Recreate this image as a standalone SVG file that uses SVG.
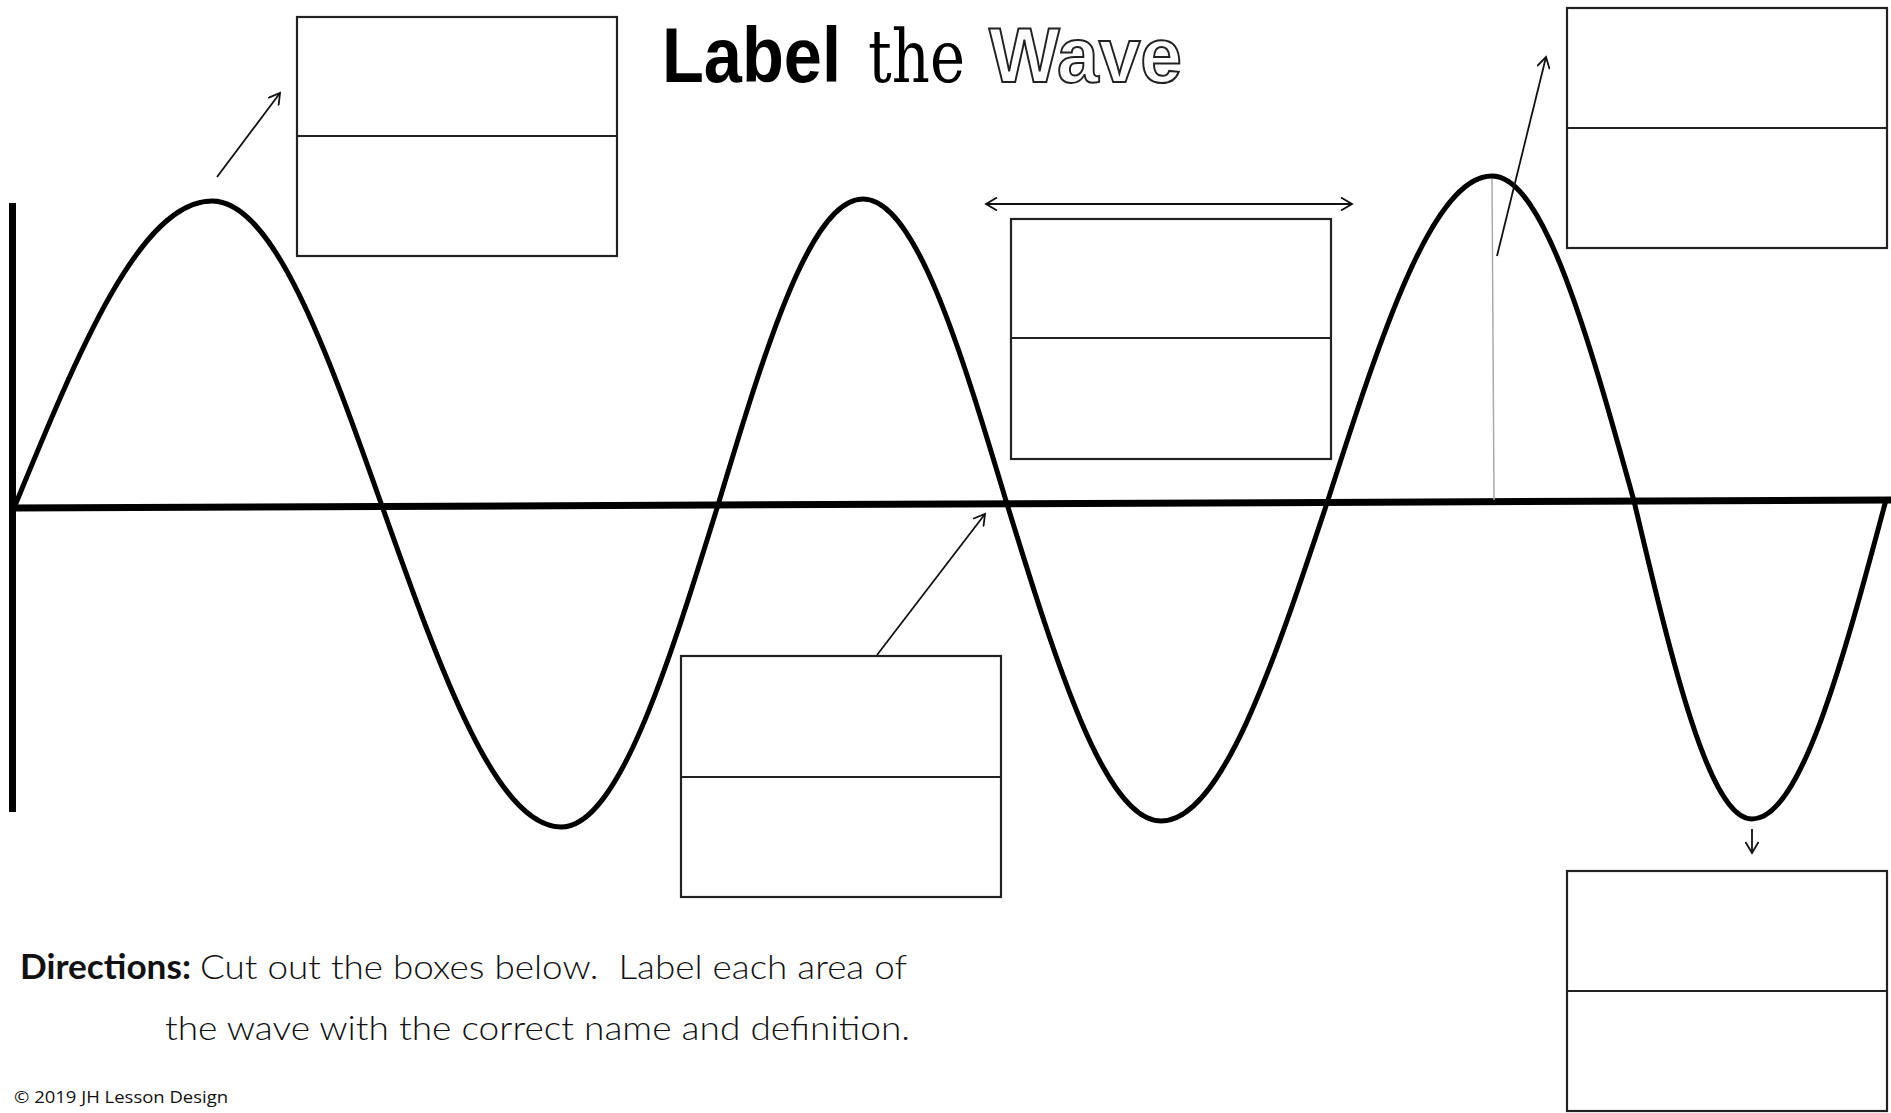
<svg xmlns="http://www.w3.org/2000/svg" width="1891" height="1113" viewBox="0 0 1891 1113">
<style>
.box{fill:#fff;stroke:#222;stroke-width:2.2}
.div{stroke:#222;stroke-width:2.2}
.conn{stroke:#111;stroke-width:1.8;fill:none}
.wave{fill:none;stroke:#000;stroke-width:5;stroke-linecap:round;stroke-linejoin:round}
.axis{stroke:#000;stroke-width:7;fill:none}
.dir{font-family:"Lato","Noto Sans",sans-serif;font-size:34px;fill:#111;font-weight:300}
</style>
<defs>
<marker id="ah" markerUnits="userSpaceOnUse" viewBox="0 0 14 14" refX="12" refY="7" markerWidth="14" markerHeight="14" orient="auto-start-reverse">
<path d="M1,0.5 L12,7 L1,13.5" fill="none" stroke="#111" stroke-width="1.8"/>
</marker>
</defs>
<rect width="1891" height="1113" fill="#fff"/>

<g id="title">
<text x="662" y="82" font-family="Liberation Sans, Arial, sans-serif" font-weight="bold" font-size="78" textLength="179" lengthAdjust="spacingAndGlyphs" fill="#000">Label</text>
<text x="868" y="82" font-family="DejaVu Serif, serif" font-size="72" textLength="97" lengthAdjust="spacingAndGlyphs" fill="#000">the</text>
<text x="989" y="82" font-family="Liberation Sans, Arial, sans-serif" font-weight="bold" font-size="78" textLength="193" lengthAdjust="spacingAndGlyphs" fill="#fff" stroke="#222" stroke-width="2">Wave</text>
</g>

<g id="axes">
<line class="axis" x1="12.5" y1="203" x2="12.5" y2="812" stroke-width="8"/>
<line class="axis" x1="12" y1="508" x2="1891" y2="500"/>
<line x1="1492" y1="178" x2="1494" y2="500" stroke="#aaa" stroke-width="1.5"/>
</g>

<g id="wave">
<path class="wave" d="M14,508 C78.5,350.7 140.3,201 212,201 C273.5,201 326.6,349.7 382,506 C440.4,670.4 496.2,827 561,827 C617.8,827 666.8,670 718,505 C765.3,348.2 810.5,199 863,199 C915.1,199 960.1,347.7 1007,504 C1057.2,666.4 1105.3,821 1161,821 C1221.1,821 1272.9,665.9 1327,503 C1380.8,335.5 1432.3,176 1492,176 C1543.4,176 1587.7,334.5 1634,501 C1672.5,663.9 1709.3,819 1752,819 C1800.5,819 1842.3,663.4 1886,500"/>
</g>

<g id="box-crest-label">
<rect class="box" x="297" y="17" width="320" height="239"/>
<line class="div" x1="297" y1="136" x2="617" y2="136"/>
</g>
<g id="box-wavelength">
<rect class="box" x="1011" y="219" width="320" height="240"/>
<line class="div" x1="1011" y1="338" x2="1331" y2="338"/>
</g>
<g id="box-amplitude">
<rect class="box" x="1567" y="8" width="320" height="240"/>
<line class="div" x1="1567" y1="128" x2="1887" y2="128"/>
</g>
<g id="box-rest">
<rect class="box" x="681" y="656" width="320" height="241" stroke-width="3" stroke="#000"/>
<line class="div" x1="681" y1="777" x2="1001" y2="777" stroke-width="3" stroke="#000"/>
</g>
<g id="box-trough">
<rect class="box" x="1567" y="871" width="320" height="240"/>
<line class="div" x1="1567" y1="991" x2="1887" y2="991"/>
</g>

<g id="connectors">
<line class="conn" x1="217" y1="177" x2="280" y2="93" marker-end="url(#ah)"/>
<line class="conn" x1="986" y1="204" x2="1352" y2="204" stroke="#555" stroke-width="2.2" marker-start="url(#ah)" marker-end="url(#ah)"/>
<line class="conn" x1="1497" y1="256" x2="1546" y2="57" marker-end="url(#ah)"/>
<line class="conn" x1="877" y1="655" x2="985" y2="514" marker-end="url(#ah)"/>
<line class="conn" x1="1752" y1="829" x2="1752" y2="853" marker-end="url(#ah)"/>
</g>

<g id="directions">
<text class="dir" x="20" y="979" font-weight="bold" style="font-weight:bold" textLength="171" lengthAdjust="spacingAndGlyphs">Directions:</text>
<text class="dir" x="200" y="979" textLength="707" lengthAdjust="spacingAndGlyphs" xml:space="preserve">Cut out the boxes below.  Label each area of</text>
<text class="dir" x="165" y="1040" textLength="745" lengthAdjust="spacingAndGlyphs">the wave with the correct name and definition.</text>
<text x="14" y="1103" font-family="Open Sans, Noto Sans, sans-serif" font-size="16" textLength="214" lengthAdjust="spacingAndGlyphs" fill="#111">© 2019 JH Lesson Design</text>
</g>
</svg>
